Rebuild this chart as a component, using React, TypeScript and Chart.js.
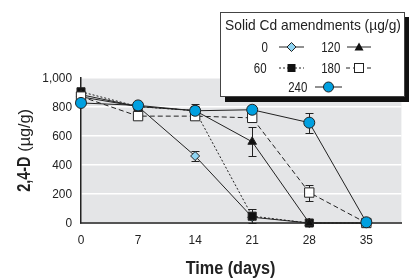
import React, { useEffect, useRef } from "react";
import { Chart, registerables } from "chart.js";

Chart.register(...registerables);

const days = [0, 7, 14, 21, 28, 35];
const xTicks = [0, 7, 14, 21, 28, 35];
const yTicks = [0, 200, 400, 600, 800, 1000];

const cd0 = [870, 803, 462, 40, 0, 0];
const cd60 = [905, 803, 775, 47, 0, 0];
const cd120 = [885, 803, 775, 560, 0, 0];
const cd180 = [872, 737, 737, 725, 210, 0];
const cd240 = [828, 811, 774, 781, 692, 5];

const err0 = [0, 0, 37, 0, 0, 0];
const err60 = [0, 0, 0, 47, 0, 0];
const err120 = [0, 0, 45, 100, 0, 0];
const err180 = [0, 0, 0, 30, 55, 10];
const err240 = [0, 0, 0, 0, 70, 0];

const FONT = "'Liberation Sans', Arial, sans-serif";
const INK = "#222";

function condText(ctx: any, text: string, x: number, y: number, align: string, font: string, sq: number) {
  ctx.save();
  ctx.font = font;
  ctx.textBaseline = "middle";
  ctx.textAlign = align;
  ctx.translate(x, y);
  ctx.scale(sq, 1);
  ctx.fillText(text, 0, 0);
  ctx.restore();
}

const bgPlugin = {
  id: "bgPlugin",
  beforeDraw(chart: any) {
    const { ctx, chartArea } = chart;
    ctx.save();
    ctx.fillStyle = "#e4e5e7";
    ctx.fillRect(chartArea.left, chartArea.top, chartArea.right - chartArea.left, chartArea.bottom - chartArea.top);
    ctx.restore();
  },
};

const errPlugin = {
  id: "errPlugin",
  beforeDatasetsDraw(chart: any) {
    const { ctx } = chart;
    const xs = chart.scales.x;
    const ys = chart.scales.y;
    ctx.save();
    ctx.strokeStyle = INK;
    ctx.lineWidth = 1;
    chart.data.datasets.forEach((ds: any) => {
      const errs = ds.errors || [];
      ds.data.forEach((p: any, i: number) => {
        const e = errs[i];
        if (!e) return;
        const px = Math.round(xs.getPixelForValue(p.x)) + 0.5;
        const top = Math.round(ys.getPixelForValue(p.y + e)) + 0.5;
        const bot = Math.round(ys.getPixelForValue(p.y - e)) + 0.5;
        ctx.beginPath();
        ctx.moveTo(px, top);
        ctx.lineTo(px, bot);
        ctx.moveTo(px - 4, top);
        ctx.lineTo(px + 4, top);
        ctx.moveTo(px - 4, bot);
        ctx.lineTo(px + 4, bot);
        ctx.stroke();
      });
    });
    ctx.restore();
  },
};

const textPlugin = {
  id: "textPlugin",
  afterDraw(chart: any) {
    const { ctx, chartArea } = chart;
    const xs = chart.scales.x;
    const ys = chart.scales.y;
    ctx.save();
    ctx.fillStyle = INK;
    const tf = `13.5px ${FONT}`;
    xTicks.forEach((v) => {
      condText(ctx, String(v), xs.getPixelForValue(v), chartArea.bottom + 17, "center", tf, 0.88);
    });
    yTicks.forEach((v) => {
      condText(ctx, v.toLocaleString("en-US"), chartArea.left - 9, ys.getPixelForValue(v), "right", tf, 0.88);
    });
    condText(ctx, "Time (days)", (chartArea.left + 380) / 2, 269, "center", `bold 18px ${FONT}`, 0.9);
    // y title: bold part + regular part
    ctx.save();
    ctx.translate(25, (chartArea.top + chartArea.bottom) / 2);
    ctx.rotate(-Math.PI / 2);
    const bFont = `bold 18px ${FONT}`;
    const rFont = `17px ${FONT}`;
    const p1 = "2,4-D";
    const p2 = "(\u00b5g/g)";
    const s1 = 0.8;
    const s2 = 0.95;
    const gap = 5;
    ctx.font = bFont;
    const w1 = ctx.measureText(p1).width * s1;
    ctx.font = rFont;
    const w2 = ctx.measureText(p2).width * s2;
    const start = -(w1 + gap + w2) / 2;
    condText(ctx, p1, start, 0, "left", bFont, s1);
    condText(ctx, p2, start + w1 + gap, 0, "left", rFont, s2);
    ctx.restore();
    ctx.restore();
  },
};

function LegendMark({ w, dash, shape }: { w: number; dash?: string; shape: string }) {
  const c = w / 2;
  let m: any = null;
  if (shape === "diamond") m = <polygon points={`${c},1.5 ${c + 4.5},6 ${c},10.5 ${c - 4.5},6`} fill="#8fd4f2" stroke={INK} strokeWidth={1} />;
  if (shape === "square") m = <rect x={c - 4} y={2} width={8} height={8} fill="#111" />;
  if (shape === "open") m = <rect x={c - 4.5} y={1.5} width={9} height={9} fill="#fff" stroke={INK} strokeWidth={1} />;
  if (shape === "tri") m = <polygon points={`${c},1.5 ${c + 4.5},9.5 ${c - 4.5},9.5`} fill="#111" />;
  if (shape === "circle") m = <circle cx={c} cy={6} r={5} fill="#00a0e0" stroke={INK} strokeWidth={1} />;
  return (
    <svg width={w} height={12} style={{ display: "block" }}>
      <line x1={0} y1={6} x2={w} y2={6} stroke={INK} strokeWidth={1} strokeDasharray={dash} />
      {m}
    </svg>
  );
}

function Legend() {
  const txt: React.CSSProperties = {
    position: "absolute",
    fontFamily: FONT,
    fontSize: 14,
    lineHeight: "16px",
    color: INK,
    whiteSpace: "nowrap",
  };
  const label = (s: string, right: number, cy: number) => (
    <div
      style={{
        ...txt,
        right: 409 - right,
        top: cy - 8,
        textAlign: "right",
        transform: "scaleX(0.82)",
        transformOrigin: "right center",
      }}
    >
      {s}
    </div>
  );
  const mark = (left: number, w: number, cy: number, shape: string, dash?: string) => (
    <div style={{ position: "absolute", left, top: cy - 6 }}>
      <LegendMark w={w} shape={shape} dash={dash} />
    </div>
  );
  return (
    <>
      <div
        style={{
          position: "absolute",
          left: 220,
          top: 12,
          width: 183,
          height: 83,
          border: "1px solid #444",
          background: "#fff",
          boxShadow: "5px 5px 0 #111",
        }}
      />
      <div
        style={{
          ...txt,
          fontSize: 15,
          left: 163,
          width: 300,
          top: 17,
          textAlign: "center",
          transform: "scaleX(0.92)",
          transformOrigin: "center center",
        }}
      >
        Solid Cd amendments ({"\u00b5"}g/g)
      </div>
      {label("0", 268, 47)}
      {mark(279, 25, 47, "diamond")}
      {label("120", 340, 47)}
      {mark(347, 24, 47, "tri")}
      {label("60", 267, 68)}
      {mark(279, 25, 68, "square", "2 2")}
      {label("180", 340, 68)}
      {mark(346, 26, 68, "open", "4 3")}
      {label("240", 307, 87)}
      {mark(315, 27, 87, "circle")}
    </>
  );
}

export default function App() {
  const ref = useRef<HTMLCanvasElement>(null);
  useEffect(() => {
    if (!ref.current) return;
    const mk = (label: string, data: number[], errors: number[], style: string, radius: number, bg: string, dash: number[]) => ({
      label,
      data: days.map((d, i) => ({ x: d, y: data[i] })),
      errors,
      borderColor: INK,
      borderWidth: 1,
      borderDash: dash,
      pointStyle: style,
      pointRadius: radius,
      pointBackgroundColor: bg,
      pointBorderColor: INK,
      pointBorderWidth: 1,
      clip: false,
      tension: 0,
    });
    // Chart.js draws dataset 0 on top, so list the top-most series first
    const chart = new Chart(ref.current, {
      type: "line",
      data: {
        datasets: [
          mk("240", cd240, err240, "circle", 5.5, "#00a0e0", []),
          mk("180", cd180, err180, "rect", 6.6, "#fff", [5, 3]),
          mk("120", cd120, err120, "triangle", 5, "#111", []),
          mk("60", cd60, err60, "rect", 5.7, "#111", [2, 2]),
          mk("0", cd0, err0, "rectRot", 4.5, "#8fd4f2", []),
        ] as any,
      },
      options: {
        animation: false,
        responsive: false,
        devicePixelRatio: 1,
        layout: { padding: { top: 78, right: 0, bottom: 0, left: 0 } },
        plugins: { legend: { display: false }, tooltip: { enabled: false } },
        scales: {
          x: {
            type: "linear",
            min: 0,
            max: 39.3,
            afterBuildTicks: (s: any) => {
              s.ticks = xTicks.map((v) => ({ value: v }));
            },
            afterFit: (s: any) => {
              s.height = 57;
            },
            grid: { display: true, color: "rgba(0,0,0,0)", drawTicks: false },
            border: { display: true, color: "#555", width: 2 },
            ticks: { display: false },
          },
          y: {
            type: "linear",
            min: 0,
            max: 1000,
            afterBuildTicks: (s: any) => {
              s.ticks = yTicks.map((v) => ({ value: v }));
            },
            afterFit: (s: any) => {
              s.width = 81;
            },
            grid: { color: "#ffffff", lineWidth: 1.5, drawTicks: false },
            border: { display: true, color: "#222", width: 1.5 },
            ticks: { display: false },
          },
        },
      },
      plugins: [bgPlugin, errPlugin, textPlugin],
    } as any);
    return () => chart.destroy();
  }, []);
  return (
    <div style={{ position: "absolute", left: 0, top: 0, width: 409, height: 280, background: "#fff" }}>
      <canvas ref={ref} width={409} height={280} style={{ display: "block", width: 409, height: 280 }} />
      <Legend />
    </div>
  );
}
